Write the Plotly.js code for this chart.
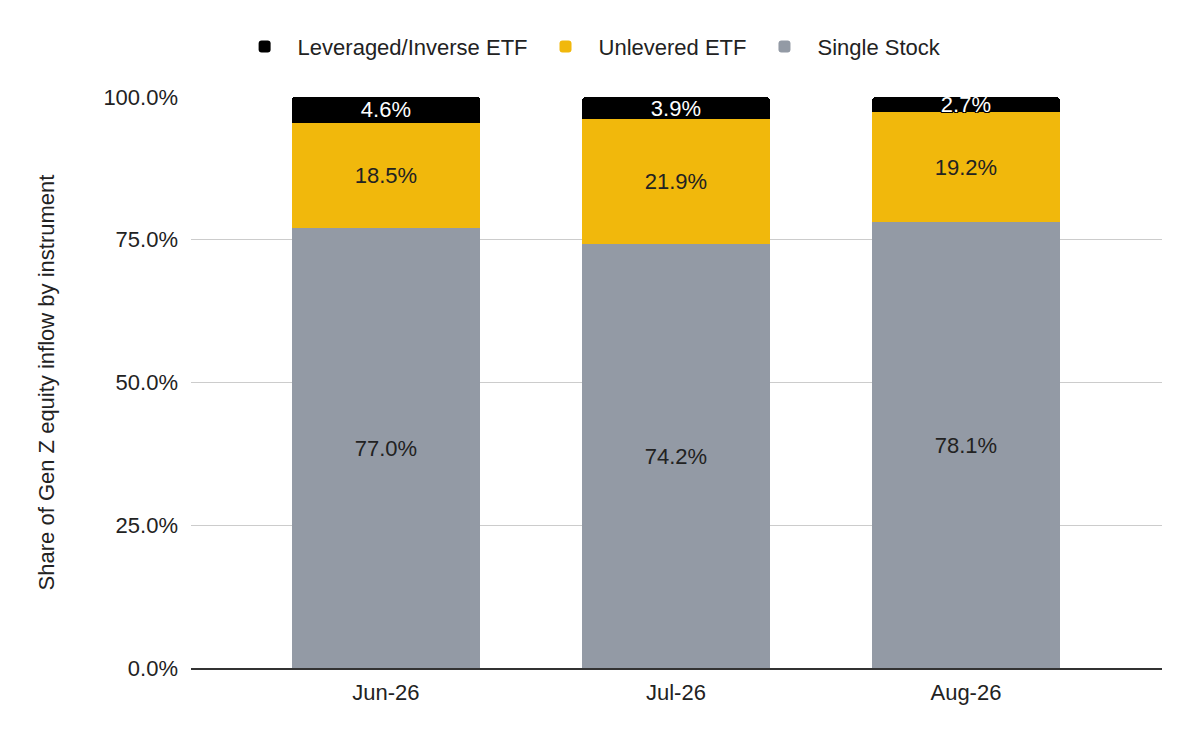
<!DOCTYPE html>
<html>
<head>
<meta charset="utf-8">
<script src="https://cdn.plot.ly/plotly-3.0.1.min.js"></script>
<style>
  html, body { margin: 0; padding: 0; background: #fff; }
  #chart { width: 1200px; height: 742px; }
</style>
</head>
<body>
<div id="chart"></div>
<script>
var months = ['Jun-26', 'Jul-26', 'Aug-26'];
var singleStock = [77.0, 74.2, 78.1];
var unlevered = [18.5, 21.9, 19.2];
var leveraged = [4.6, 3.9, 2.7];

function pctText(vals) {
    return vals.map(function (v) { return v.toFixed(1) + '%'; });
}

var data = [
    {
        type: 'bar',
        name: 'Single Stock',
        x: months,
        y: singleStock,
        text: pctText(singleStock),
        textposition: 'inside',
        insidetextanchor: 'middle',
        constraintext: 'none',
        textfont: { color: '#222', size: 22 },
        marker: { color: '#939aa5' },
        hoverinfo: 'name+y'
    },
    {
        type: 'bar',
        name: 'Unlevered ETF',
        x: months,
        y: unlevered,
        text: pctText(unlevered),
        textposition: 'inside',
        insidetextanchor: 'middle',
        constraintext: 'none',
        textfont: { color: '#222', size: 22 },
        marker: { color: '#f1b80c' },
        hoverinfo: 'name+y'
    },
    {
        type: 'bar',
        name: 'Leveraged/Inverse ETF',
        x: months,
        y: leveraged,
        text: pctText(leveraged),
        textposition: 'inside',
        insidetextanchor: 'middle',
        constraintext: 'none',
        textfont: {
            color: '#fff',
            size: 22,
            shadow: '-1px -1px 0 #000, 1px -1px 0 #000, -1px 1px 0 #000, 1px 1px 0 #000'
        },
        marker: { color: '#000000' },
        hoverinfo: 'name+y'
    }
];

var layout = {
    width: 1200,
    height: 742,
    font: { family: '"Liberation Sans", Arial, sans-serif', size: 22, color: '#222' },
    paper_bgcolor: '#fff',
    plot_bgcolor: '#fff',
    barmode: 'stack',
    bargap: 0.352,
    barcornerradius: 4,
    uniformtext: { mode: 'show', minsize: 22 },
    margin: { l: 191, r: 38, t: 97, b: 74 },
    showlegend: true,
    legend: {
        orientation: 'h',
        traceorder: 'reversed',
        x: 0.41,
        xanchor: 'center',
        y: 1.088,
        yanchor: 'middle',
        font: { size: 22, color: '#222' },
        itemwidth: 56
    },
    xaxis: {
        type: 'category',
        range: [-0.672, 2.676],
        showline: true,
        linecolor: '#333',
        linewidth: 2,
        showgrid: false,
        ticks: '',
        tickfont: { size: 22, color: '#222' },
        ticklabelstandoff: 4
    },
    yaxis: {
        range: [0, 100],
        tickvals: [0, 25, 50, 75, 100],
        ticktext: ['0.0%', '25.0%', '50.0%', '75.0%', '100.0%'],
        showgrid: true,
        gridcolor: '#cccccc',
        gridwidth: 1,
        zeroline: false,
        showline: false,
        ticks: '',
        tickfont: { size: 22, color: '#222' },
        ticklabelstandoff: 12,
        title: {
            text: 'Share of Gen Z equity inflow by instrument',
            font: { size: 22, color: '#222' },
            standoff: 42
        }
    }
};

Plotly.newPlot('chart', data, layout, { displayModeBar: false, staticPlot: true });
</script>
</body>
</html>
